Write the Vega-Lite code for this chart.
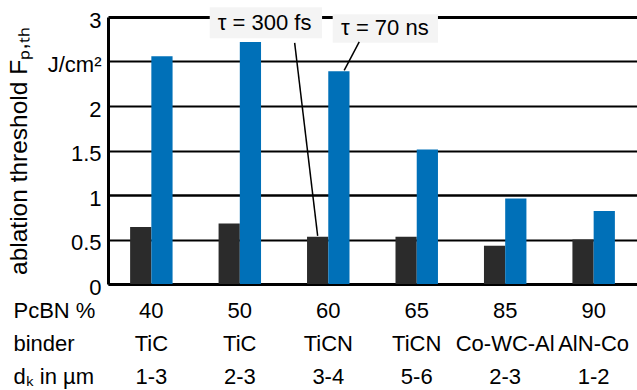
{
  "$schema": "https://vega.github.io/schema/vega-lite/v6.json",
  "width": 529,
  "height": 267,
  "autosize": "none",
  "padding": {"left": 108, "top": 17, "right": 0, "bottom": 106},
  "background": "white",
  "config": {"view": {"stroke": null}, "font": "Liberation Sans"},
  "datasets": {
    "bars": [
      {"group": "40|TiC|1-3", "series": "300 fs", "value": 0.64},
      {"group": "40|TiC|1-3", "series": "70 ns", "value": 2.56},
      {"group": "50|TiC|2-3", "series": "300 fs", "value": 0.68},
      {"group": "50|TiC|2-3", "series": "70 ns", "value": 2.72},
      {"group": "60|TiCN|3-4", "series": "300 fs", "value": 0.53},
      {"group": "60|TiCN|3-4", "series": "70 ns", "value": 2.39},
      {"group": "65|TiCN|5-6", "series": "300 fs", "value": 0.53},
      {"group": "65|TiCN|5-6", "series": "70 ns", "value": 1.51},
      {"group": "85|Co-WC-Al|2-3", "series": "300 fs", "value": 0.43},
      {"group": "85|Co-WC-Al|2-3", "series": "70 ns", "value": 0.96},
      {"group": "90|AlN-Co|1-2", "series": "300 fs", "value": 0.5},
      {"group": "90|AlN-Co|1-2", "series": "70 ns", "value": 0.82}
    ],
    "boxes": [
      {"x0": 0.66, "x1": 1.93, "y0": 2.76, "y1": 3.11},
      {"x0": 2.05, "x1": 3.24, "y0": 2.71, "y1": 3.03}
    ],
    "leaders": [
      {"x0": 1.62, "x1": 1.88, "y0": 2.71, "y1": 0.54},
      {"x0": 2.35, "x1": 2.18, "y0": 2.72, "y1": 2.4}
    ],
    "labels": [
      {"x": 1.28, "y": 2.93, "text": "τ = 300 fs"},
      {"x": 2.64, "y": 2.88, "text": "τ = 70 ns"}
    ]
  },
  "layer": [
    {
      "data": {"name": "bars"},
      "mark": {"type": "bar"},
      "encoding": {
        "x": {
          "field": "group", "type": "nominal", "sort": null,
          "scale": {"paddingInner": 0.52, "paddingOuter": 0.25},
          "axis": {
            "labelExpr": "split(datum.value, '|')",
            "labelAngle": 0, "labelFontSize": 22, "labelColor": "black",
            "labelLineHeight": 33, "labelBaseline": "top", "labelPadding": 16,
            "labelOverlap": false, "labelFlush": false,
            "ticks": false, "domain": true, "domainColor": "black", "domainWidth": 3,
            "title": ["PcBN %", "binder", "dₖ in µm"],
            "titleFontSize": 22, "titleFontWeight": "normal", "titleColor": "black",
            "titleAnchor": "start", "titleAlign": "left", "titleBaseline": "top",
            "titleLineHeight": 33, "titleX": -95, "titleY": 16
          }
        },
        "xOffset": {"field": "series", "type": "nominal", "sort": ["300 fs", "70 ns"], "scale": {"paddingInner": 0, "paddingOuter": 0}},
        "y": {
          "field": "value", "type": "quantitative",
          "scale": {"domain": [0, 3], "nice": false},
          "axis": {
            "values": [0, 0.5, 1, 1.5, 2, 2.5, 3], "format": "~g",
            "labelExpr": "datum.value == 2.5 ? 'J/cm²' : datum.label",
            "grid": true, "gridColor": "black", "gridOpacity": 1,
            "gridWidth": {"condition": [{"test": "datum.value == 3", "value": 3}, {"test": "datum.value == 1", "value": 2.5}], "value": 1.8},
            "domain": true, "domainColor": "black", "domainWidth": 3, "ticks": false,
            "labelFontSize": 22, "labelColor": "black", "labelPadding": 7, "labelOffset": 3,
            "title": "ablation threshold Fₚ,ₜₕ", "titleFontSize": 24.5,
            "titleFontWeight": "normal", "titleColor": "black", "titlePadding": 16
          }
        },
        "color": {"field": "series", "type": "nominal", "scale": {"domain": ["300 fs", "70 ns"], "range": ["#2b2b2b", "#0070b8"]}, "legend": null}
      }
    },
    {
      "layer": [
        {
          "data": {"name": "boxes"},
          "mark": {"type": "rect", "color": "#f4f4f4"},
          "encoding": {
            "x": {"field": "x0", "type": "quantitative", "scale": {"domain": [-0.49, 5.49], "nice": false, "zero": false}, "axis": null},
            "x2": {"field": "x1"},
            "y": {"field": "y0", "type": "quantitative", "scale": {"domain": [0, 3], "nice": false, "zero": false}, "axis": null},
            "y2": {"field": "y1"}
          }
        },
        {
          "data": {"name": "leaders"},
          "mark": {"type": "rule", "color": "black", "strokeWidth": 1.5},
          "encoding": {
            "x": {"field": "x0", "type": "quantitative", "scale": {"domain": [-0.49, 5.49], "nice": false, "zero": false}, "axis": null},
            "x2": {"field": "x1"},
            "y": {"field": "y0", "type": "quantitative", "scale": {"domain": [0, 3], "nice": false, "zero": false}, "axis": null},
            "y2": {"field": "y1"}
          }
        },
        {
          "data": {"name": "labels"},
          "mark": {"type": "text", "fontSize": 22, "color": "black", "align": "center", "baseline": "middle"},
          "encoding": {
            "x": {"field": "x", "type": "quantitative", "scale": {"domain": [-0.49, 5.49], "nice": false, "zero": false}, "axis": null},
            "y": {"field": "y", "type": "quantitative", "scale": {"domain": [0, 3], "nice": false, "zero": false}, "axis": null},
            "text": {"field": "text"}
          }
        }
      ]
    }
  ],
  "resolve": {"scale": {"x": "independent", "y": "independent"}, "axis": {"x": "independent", "y": "independent"}}
}
